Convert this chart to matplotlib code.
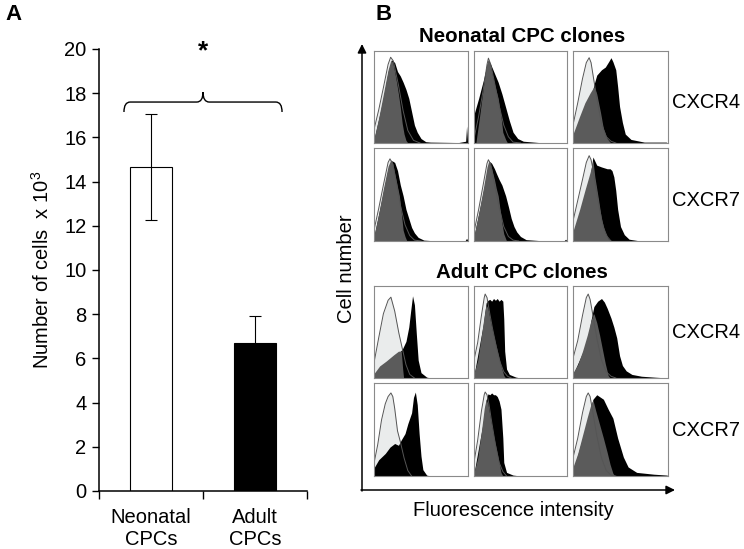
import numpy as np
import matplotlib
matplotlib.use('Agg')
import matplotlib.pyplot as plt
from matplotlib.path import Path
from matplotlib.patches import PathPatch

plt.rcParams['font.family'] = ['Liberation Sans', 'DejaVu Sans']
plt.rcParams['mathtext.fontset'] = 'custom'
plt.rcParams['mathtext.rm'] = 'Liberation Sans'

# panel A data
groups = ['Neonatal\nCPCs', 'Adult\nCPCs']
cells = [14.65, 6.7]       # x 10^3
cells_err = [2.4, 1.2]
bar_colors = ['white', 'black']

# panel B data: (fluorescence, relative count)
# ctrl = unstained (light grey), iso = isotype (dark grey), stain = antibody (black)
neo_cxcr4_ctrl = [
    [(0, .15), (.05, .37), (.10, .62), (.15, .88), (.177, .96), (.205, .92), (.26, .65), (.31, .36), (.36, .14), (.42, .03), (.49, 0)],
    [(0, .05), (.05, .3), (.10, .6), (.14, .88), (.155, .95), (.18, .88), (.22, .68), (.27, .42), (.32, .2), (.37, .07), (.42, .01), (.5, 0)],
    [(0, .2), (.05, .45), (.10, .72), (.14, .9), (.17, .955), (.19, .9), (.22, .7), (.26, .45), (.30, .22), (.35, .07), (.40, .02), (.45, 0)],
]
neo_cxcr4_iso = [
    [(0, .05), (.05, .28), (.10, .55), (.15, .82), (.18, .93), (.20, .9), (.22, .8), (.24, .68), (.26, .55), (.28, .4), (.30, .22), (.32, .1), (.34, .03), (.36, 0)],
    [(.02, 0), (.06, .3), (.10, .62), (.13, .85), (.15, .93), (.17, .9), (.20, .75), (.23, .62), (.26, .5), (.29, .3), (.31, .12), (.34, .04), (.36, 0)],
    [(0, .1), (.07, .3), (.125, .45), (.18, .56), (.22, .63), (.25, .55), (.29, .34), (.32, .16), (.36, .05), (.39, .01), (.41, 0)],
]
neo_cxcr4_stain = [
    [(0, .04), (.10, .5), (.15, .8), (.19, .93), (.22, .9), (.25, .8), (.28, .75), (.31, .68), (.34, .6), (.37, .5), (.40, .35), (.43, .2), (.46, .12), (.50, .05), (.55, .015), (.6, .01), (.9, .005), (.975, .02), (.985, .19), (.995, .02), (1, 0)],
    [(0, .32), (.05, .5), (.10, .7), (.14, .88), (.155, .93), (.18, .88), (.22, .78), (.26, .68), (.30, .55), (.34, .4), (.38, .25), (.42, .12), (.47, .05), (.53, .02), (.7, .005), (1, 0)],
    [(0, .05), (.10, .3), (.2, .55), (.22, .65), (.25, .76), (.30, .82), (.34, .85), (.375, .91), (.40, .955), (.42, .91), (.45, .82), (.47, .63), (.49, .41), (.52, .23), (.55, .1), (.61, .04), (.75, .01), (.98, .01), (1, 0)],
]
neo_cxcr7_ctrl = [
    [(0, .12), (.05, .36), (.10, .62), (.15, .87), (.17, .91), (.20, .85), (.24, .64), (.28, .4), (.33, .18), (.38, .06), (.43, .01), (.5, 0)],
    [(0, .1), (.05, .35), (.10, .63), (.14, .86), (.155, .9), (.18, .85), (.22, .64), (.27, .38), (.32, .16), (.37, .05), (.42, .01), (.48, 0)],
    [(0, .22), (.05, .45), (.10, .68), (.14, .87), (.17, .945), (.19, .9), (.21, .8), (.24, .6), (.28, .35), (.32, .15), (.36, .05), (.40, 0)],
]
neo_cxcr7_iso = [
    [(0, .06), (.05, .3), (.10, .58), (.15, .83), (.18, .9), (.20, .86), (.22, .75), (.25, .6), (.27, .5), (.29, .32), (.31, .12), (.33, .05), (.35, 0)],
    [(0, .06), (.05, .3), (.10, .58), (.14, .82), (.16, .89), (.19, .8), (.22, .68), (.24, .58), (.26, .5), (.28, .35), (.30, .2), (.32, .08), (.35, 0)],
    [(0, .11), (.07, .35), (.125, .56), (.18, .76), (.21, .89), (.23, .71), (.27, .45), (.30, .24), (.34, .09), (.375, .02), (.41, 0)],
]
neo_cxcr7_stain = [
    [(0, .05), (.10, .55), (.15, .8), (.19, .89), (.22, .87), (.25, .78), (.28, .62), (.31, .5), (.34, .35), (.37, .25), (.40, .15), (.43, .09), (.47, .04), (.53, .01), (.6, .005), (.97, .005), (.985, .03), (1, 0)],
    [(0, .05), (.10, .55), (.15, .8), (.17, .88), (.19, .86), (.22, .8), (.24, .75), (.27, .68), (.30, .62), (.34, .5), (.37, .38), (.40, .25), (.43, .16), (.46, .1), (.50, .05), (.56, .015), (.7, .005), (.97, .005), (.985, .02), (1, 0)],
    [(0, .05), (.15, .5), (.21, .93), (.25, .84), (.30, .82), (.36, .8), (.39, .8), (.41, .78), (.43, .71), (.45, .56), (.47, .35), (.50, .16), (.54, .07), (.59, .02), (.68, .005), (1, 0)],
]
adu_cxcr4_ctrl = [
    [(0, .17), (.05, .45), (.10, .72), (.15, .87), (.18, .905), (.22, .75), (.265, .5), (.30, .335), (.34, .15), (.38, .04), (.43, 0)],
    [(0, .2), (.04, .4), (.08, .7), (.11, .9), (.12, .94), (.14, .9), (.17, .72), (.20, .55), (.24, .35), (.28, .18), (.32, .07), (.36, .02), (.4, 0)],
    [(0, .22), (.05, .42), (.10, .7), (.14, .9), (.16, .94), (.18, .88), (.21, .7), (.25, .45), (.30, .2), (.35, .07), (.40, .02), (.45, 0)],
]
adu_cxcr4_iso = [
    [(0, .05), (.06, .135), (.13, .19), (.21, .26), (.26, .3), (.29, .3), (.305, .1), (.315, 0)],
    [(0, .05), (.04, .2), (.08, .48), (.11, .7), (.13, .82), (.15, .78), (.18, .62), (.21, .48), (.24, .35), (.27, .22), (.30, .1), (.32, .03), (.34, 0)],
    [(0, .06), (.05, .15), (.10, .3), (.15, .48), (.19, .65), (.22, .72), (.25, .62), (.28, .48), (.31, .32), (.34, .16), (.37, .03), (.39, 0)],
]
adu_cxcr4_stain = [
    [(0, .03), (.2, .2), (.28, .3), (.30, .32), (.34, .41), (.37, .57), (.39, .75), (.41, .92), (.43, .82), (.45, .5), (.47, .2), (.50, .06), (.56, .01), (.6, 0)],
    [(0, .03), (.10, .6), (.13, .84), (.15, .87), (.17, .88), (.19, .86), (.21, .89), (.23, .87), (.25, .89), (.27, .86), (.29, .88), (.31, .86), (.32, .66), (.33, .3), (.35, .1), (.38, .04), (.45, .01), (.5, 0)],
    [(0, .04), (.15, .4), (.19, .65), (.22, .8), (.26, .86), (.30, .89), (.33, .85), (.36, .78), (.40, .67), (.43, .57), (.46, .45), (.49, .25), (.52, .14), (.56, .08), (.62, .04), (.72, .02), (.85, .01), (1, 0)],
]
adu_cxcr7_ctrl = [
    [(0, .14), (.04, .35), (.08, .62), (.12, .8), (.15, .88), (.18, .92), (.20, .88), (.22, .75), (.25, .5), (.28, .38), (.32, .2), (.36, .06), (.40, 0)],
    [(0, .15), (.04, .4), (.08, .72), (.11, .9), (.12, .93), (.14, .9), (.16, .8), (.19, .6), (.23, .35), (.27, .15), (.31, .05), (.35, 0)],
    [(0, .2), (.05, .42), (.10, .7), (.14, .88), (.16, .92), (.18, .88), (.21, .7), (.25, .45), (.30, .2), (.35, .06), (.40, .01), (.45, 0)],
]
adu_cxcr7_iso = [
    [],
    [(0, .04), (.04, .2), (.08, .5), (.11, .75), (.13, .85), (.15, .8), (.18, .62), (.21, .45), (.24, .3), (.27, .15), (.29, .04), (.31, 0)],
    [(0, .1), (.05, .25), (.10, .45), (.15, .65), (.19, .8), (.21, .84), (.24, .72), (.28, .57), (.32, .42), (.36, .26), (.39, .13), (.42, .03), (.44, 0)],
]
adu_cxcr7_stain = [
    [(0, .09), (.05, .18), (.12, .25), (.17, .32), (.22, .36), (.26, .34), (.29, .4), (.33, .47), (.36, .58), (.40, .7), (.42, .87), (.44, .93), (.46, .79), (.48, .47), (.50, .22), (.52, .07), (.56, .01), (.6, 0)],
    [(0, .03), (.10, .6), (.13, .84), (.15, .91), (.17, .9), (.19, .92), (.21, .9), (.23, .9), (.25, .88), (.27, .83), (.29, .74), (.31, .42), (.32, .15), (.35, .04), (.42, .01), (.5, 0)],
    [(0, .05), (.15, .6), (.21, .85), (.25, .9), (.32, .85), (.37, .74), (.42, .64), (.47, .42), (.53, .21), (.58, .1), (.67, .04), (.85, .02), (.99, .01), (1, 0)],
]

W, H = 744, 549
fig = plt.figure(figsize=(W / 100, H / 100), dpi=100)
FS = 14.5


def px_axes(x0, y0, x1, y1):
    # pixel box (top-left origin) -> figure axes
    return fig.add_axes([x0 / W, 1 - y1 / H, (x1 - x0) / W, (y1 - y0) / H])


# ---------- panel A ----------
ax = px_axes(99, 49, 307, 491)
x = np.arange(len(groups)) + 0.5
ax.bar(x, cells, width=0.4, color=bar_colors, edgecolor='black', linewidth=0.8, zorder=2)
ax.errorbar(x, cells, yerr=cells_err, fmt='none', ecolor='black', elinewidth=0.8,
            capsize=4, capthick=0.8, zorder=3)
ax.set_xlim(0, 2)
ax.set_ylim(0, 20)
ax.set_yticks(np.arange(0, 21, 2))
ax.set_xticks([0, 1, 2], labels=[])
ax.set_xticks(x, labels=groups, minor=True)
ax.tick_params(axis='x', which='major', direction='out', length=6, width=1)
ax.tick_params(axis='x', which='minor', length=0, pad=12, labelsize=FS)
ax.tick_params(axis='y', direction='out', length=5, width=1, labelsize=FS, pad=4)
for s in ['top', 'right']:
    ax.spines[s].set_visible(False)
for s in ['left', 'bottom']:
    ax.spines[s].set_linewidth(1.1)
ax.set_ylabel('Number of cells  x 10$^{3}$', fontsize=FS, labelpad=8)

# significance brace
bl, br = x[0] - 0.26, x[1] + 0.26
bm = x.mean()
by = max(c + e for c, e in zip(cells, cells_err)) + 0.55
verts = [(bl, by - 0.45), (bl, by), (bl + 0.06, by), (bm - 0.06, by), (bm, by), (bm, by + 0.45),
         (bm, by), (bm + 0.06, by), (br - 0.06, by), (br, by), (br, by - 0.45)]
codes = [Path.MOVETO, Path.CURVE3, Path.CURVE3, Path.LINETO, Path.CURVE3, Path.CURVE3,
         Path.CURVE3, Path.CURVE3, Path.LINETO, Path.CURVE3, Path.CURVE3]
ax.add_patch(PathPatch(Path(verts, codes), fill=False, lw=1.0, color='black', clip_on=False))
ax.text(bm, by + 2.3, '*', ha='center', va='center', fontsize=19, fontweight='bold', clip_on=False)

# ---------- panel B ----------
col_x = [(374, 468), (474, 567), (573, 668)]
row_y = [(51, 143), (148, 241), (286, 378), (383, 476)]
rows = [
    (neo_cxcr4_ctrl, neo_cxcr4_iso, neo_cxcr4_stain),
    (neo_cxcr7_ctrl, neo_cxcr7_iso, neo_cxcr7_stain),
    (adu_cxcr4_ctrl, adu_cxcr4_iso, adu_cxcr4_stain),
    (adu_cxcr7_ctrl, adu_cxcr7_iso, adu_cxcr7_stain),
]

for (y0, y1), (ctrl, iso, stain) in zip(row_y, rows):
    for j, (x0, x1) in enumerate(col_x):
        hx = px_axes(x0, y0, x1, y1)
        c = np.array(ctrl[j])
        hx.fill_between(c[:, 0], c[:, 1], color='#eaecec', lw=0)
        hx.plot(c[:, 0], c[:, 1], color='#555555', lw=0.7)
        s = np.array(stain[j])
        hx.fill_between(s[:, 0], s[:, 1], color='black', lw=0)
        if len(iso[j]):
            i = np.array(iso[j])
            hx.fill_between(i[:, 0], i[:, 1], color='#5b5b5b', lw=0)
        hx.set_xlim(0, 1)
        hx.set_ylim(0, 1.03)
        hx.set_xticks([])
        hx.set_yticks([])
        for sp in hx.spines.values():
            sp.set_color('#8a8a8a')
            sp.set_linewidth(0.8)

# overlay in pixel coordinates for labels and arrows
ov = fig.add_axes([0, 0, 1, 1])
ov.set_xlim(0, W)
ov.set_ylim(H, 0)
ov.axis('off')
ov.patch.set_alpha(0)

ov.text(13, 15, 'A', fontsize=16, fontweight='bold', ha='center', va='center')
ov.text(384, 15, 'B', fontsize=16, fontweight='bold', ha='center', va='center')
ov.text(522, 37, 'Neonatal CPC clones', fontsize=14.8, fontweight='bold', ha='center', va='center')
ov.text(522, 273, 'Adult CPC clones', fontsize=14.8, fontweight='bold', ha='center', va='center')
for lab, yy in [('CXCR4', 102), ('CXCR7', 200), ('CXCR4', 332), ('CXCR7', 430)]:
    ov.text(672, yy, lab, fontsize=FS, ha='left', va='center')

ov.annotate('', xy=(362, 44), xytext=(362, 491),
            arrowprops=dict(arrowstyle='-|>', color='black', lw=1.1, mutation_scale=13,
                            shrinkA=0, shrinkB=0))
ov.annotate('', xy=(675, 490), xytext=(361, 490),
            arrowprops=dict(arrowstyle='-|>', color='black', lw=1.1, mutation_scale=13,
                            shrinkA=0, shrinkB=0))
ov.text(347, 269, 'Cell number', fontsize=FS, rotation=90, ha='center', va='center')
ov.text(513, 510, 'Fluorescence intensity', fontsize=FS, ha='center', va='center')

fig.savefig('out.png', dpi=100)
